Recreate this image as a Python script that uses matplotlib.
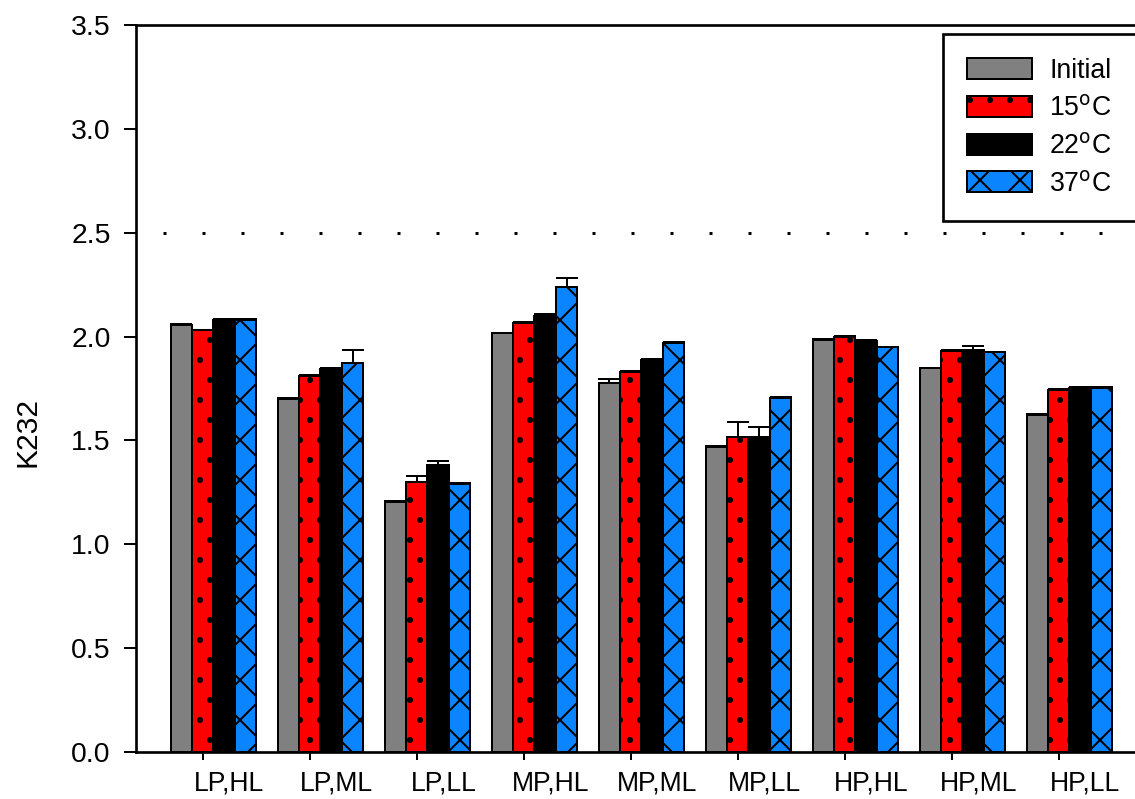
import numpy as np
import matplotlib.pyplot as plt

plt.rcParams['font.family'] = ['Liberation Sans', 'DejaVu Sans']
plt.rcParams['hatch.linewidth'] = 1.2
plt.rcParams['lines.scale_dashes'] = False

# data
groups = ['LP,HL', 'LP,ML', 'LP,LL', 'MP,HL', 'MP,ML', 'MP,LL', 'HP,HL', 'HP,ML', 'HP,LL']
initial = [2.055, 1.700, 1.205, 2.015, 1.775, 1.468, 1.984, 1.847, 1.623]
t15 = [2.030, 1.810, 1.300, 2.065, 1.828, 1.518, 2.000, 1.932, 1.743]
t22 = [2.080, 1.845, 1.383, 2.100, 1.885, 1.515, 1.977, 1.935, 1.752]
t37 = [2.080, 1.875, 1.290, 2.237, 1.970, 1.706, 1.948, 1.924, 1.752]
initial_err = [0.005, 0.005, 0.003, 0.003, 0.020, 0.003, 0.003, 0.003, 0.003]
t15_err = [0.003, 0.005, 0.030, 0.005, 0.005, 0.070, 0.005, 0.005, 0.005]
t22_err = [0.003, 0.005, 0.017, 0.010, 0.008, 0.050, 0.005, 0.020, 0.003]
t37_err = [0.003, 0.060, 0.005, 0.043, 0.005, 0.003, 0.003, 0.003, 0.003]
ref_level = 2.5

series = [
    ('Initial', initial, initial_err, '#808080', None),
    ('15$^\\mathrm{o}$C', t15, t15_err, '#FF0000', '.'),
    ('22$^\\mathrm{o}$C', t22, t22_err, '#000000', None),
    ('37$^\\mathrm{o}$C', t37, t37_err, '#0A84FF', 'x'),
]

fig = plt.figure(figsize=(1135 / 120, 799 / 120), dpi=120)
ax = fig.add_axes([0.1198, 0.0588, 0.8907, 0.9099])

x = np.arange(len(groups))
w = 0.2
for i, (name, vals, err, col, hatch) in enumerate(series):
    pos = x + (i - 1.5) * w
    ax.bar(pos, vals, w, color=col, edgecolor='black', linewidth=1.2,
           hatch=hatch, label=name, zorder=2)
    ax.errorbar(pos, vals, yerr=[np.zeros(len(vals)), err], fmt='none',
                ecolor='black', elinewidth=1.2, capsize=6.6, capthick=1.2, zorder=3)

# dotted reference line
ax.axhline(ref_level, color='black', linewidth=1.8,
           linestyle=(7.2, (1.8, 21.6)), zorder=1)

ax.set_xlim(-0.724, 8.724)
ax.set_ylim(0, 3.5)
ax.set_yticks(np.arange(0, 3.51, 0.5))
ax.set_yticklabels([f'{v:.1f}' for v in np.arange(0, 3.51, 0.5)])

# visible tick marks sit under the second bar, labels a bit to the right
ax.set_xticks(x - 0.1, minor=True)
ax.set_xticks(x + 0.15)
ax.set_xticklabels(groups)
ax.tick_params(axis='x', which='major', length=0, pad=11, labelsize=16)
ax.tick_params(axis='x', which='minor', length=4.8, width=1.2, direction='out')
ax.tick_params(axis='y', length=7.2, width=1.2, direction='out', pad=8, labelsize=17)

ax.set_ylabel('K232', fontsize=18)
ax.yaxis.set_label_coords(-0.093, 0.44)

for s in ['left', 'bottom', 'top']:
    ax.spines[s].set_linewidth(1.6)
ax.spines['right'].set_visible(False)

leg_top = 1 - 34 / 799
leg = ax.legend(loc='upper left', bbox_to_anchor=(943 / 1135, leg_top - 0.3, 0.18, 0.3),
                bbox_transform=fig.transFigure, mode='expand', borderaxespad=0,
                fontsize=16, handlelength=2.44, handleheight=0.83, handletextpad=0.64,
                borderpad=0.9, labelspacing=0.44, fancybox=False, framealpha=1,
                edgecolor='black')
leg.get_frame().set_linewidth(1.6)

fig.savefig('out.png', dpi=120)
